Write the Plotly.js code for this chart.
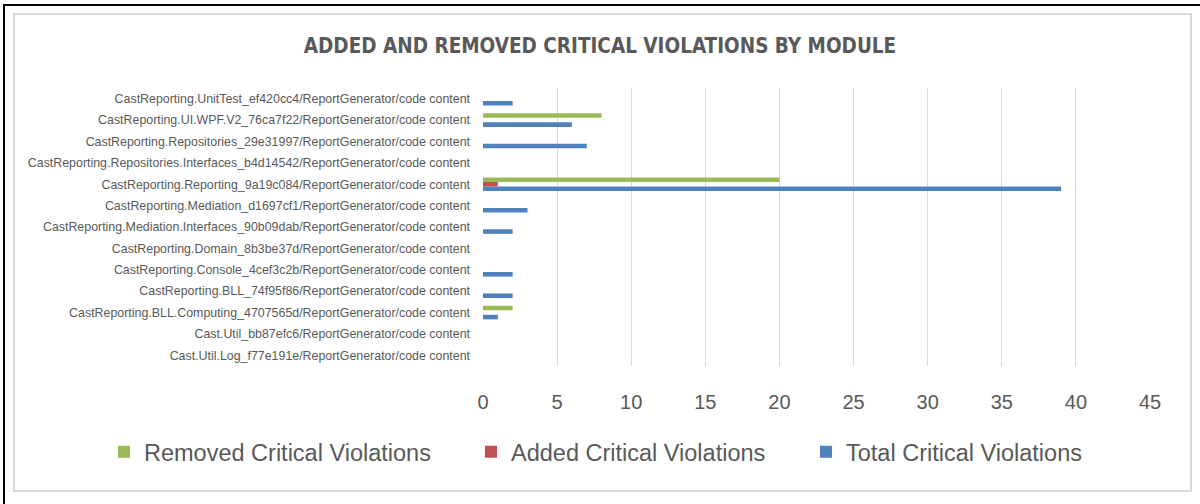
<!DOCTYPE html>
<html>
<head>
<meta charset="utf-8">
<script src="https://cdn.plot.ly/plotly-3.0.1.min.js"></script>
<style>
  html, body { margin: 0; padding: 0; background: #ffffff; }
  #wrap { position: relative; width: 1200px; height: 504px; overflow: hidden; }
  #myPlot1 { position: absolute; left: 0; top: 0; width: 1200px; height: 504px; }
  /* frame lines from the screenshot */
  #outerFrame { position: absolute; left: 3px; top: 4px; width: 1200px; height: 510px;
    border-top: 2px solid #000; border-left: 2px solid #000; pointer-events: none; }
  #innerFrame { position: absolute; left: 13px; top: 13px; width: 1175px; height: 475px;
    border: 2px solid #d9d9d9; pointer-events: none; }
</style>
</head>
<body>
<div id="wrap">
  <div id="myPlot1"></div>
  <div id="outerFrame"></div>
  <div id="innerFrame"></div>
</div>
<script>
// modules, listed bottom -> top as plotly stacks categories
var modules = [
	"Cast.Util.Log_f77e191e/ReportGenerator/code content",
	"Cast.Util_bb87efc6/ReportGenerator/code content",
	"CastReporting.BLL.Computing_4707565d/ReportGenerator/code content",
	"CastReporting.BLL_74f95f86/ReportGenerator/code content",
	"CastReporting.Console_4cef3c2b/ReportGenerator/code content",
	"CastReporting.Domain_8b3be37d/ReportGenerator/code content",
	"CastReporting.Mediation.Interfaces_90b09dab/ReportGenerator/code content",
	"CastReporting.Mediation_d1697cf1/ReportGenerator/code content",
	"CastReporting.Reporting_9a19c084/ReportGenerator/code content",
	"CastReporting.Repositories.Interfaces_b4d14542/ReportGenerator/code content",
	"CastReporting.Repositories_29e31997/ReportGenerator/code content",
	"CastReporting.UI.WPF.V2_76ca7f22/ReportGenerator/code content",
	"CastReporting.UnitTest_ef420cc4/ReportGenerator/code content"
];

var totalViolations   = [0, 0, 1, 2, 2, 0, 2, 3, 39, 0, 7, 6, 2];
var addedViolations   = [0, 0, 0, 0, 0, 0, 0, 0, 1, 0, 0, 0, 0];
var removedViolations = [0, 0, 2, 0, 0, 0, 0, 0, 20, 0, 0, 8, 0];

var xTicks = [0, 5, 10, 15, 20, 25, 30, 35, 40, 45];

function plotData(){

	var titleFont = "Liberation Sans Narrow, DejaVu Sans Condensed, Liberation Sans, sans-serif";
	var bodyFont = "Liberation Sans, sans-serif";
	var greyText = '#595959';

	var traceTotal = {
		y: modules, x: totalViolations, type: 'bar', orientation: 'h',
		name: 'Total Critical Violations',
		marker: {color: '#4F81BD'},
		legend: 'legend3',
		hoverinfo: 'none',
	};
	var traceAdded = {
		y: modules, x: addedViolations, type: 'bar', orientation: 'h',
		name: 'Added Critical Violations',
		marker: {color: '#C0504D'},
		legend: 'legend2',
		hoverinfo: 'none',
	};
	var traceRemoved = {
		y: modules, x: removedViolations, type: 'bar', orientation: 'h',
		name: 'Removed Critical Violations',
		marker: {color: '#9BBB59'},
		legend: 'legend',
		hoverinfo: 'none',
	};

	// one legend per entry so each can sit where the original puts it
	function legendAt(px){
		return {
			orientation: 'h',
			x: px/1200, xref: 'container', xanchor: 'left',
			y: 1 - 452/504, yref: 'container', yanchor: 'middle',
			font: {family: bodyFont, size: 23.5, color: greyText},
			bgcolor: 'rgba(0,0,0,0)',
			itemclick: false,
		};
	}

	var plotLayout1 = {
		title: {
			text: '<b>ADDED AND REMOVED CRITICAL VIOLATIONS BY MODULE</b>',
			font: {family: titleFont, size: 20.5, color: greyText},
			x: 0.5, xanchor: 'center',
			y: 1 - 46/504, yanchor: 'middle', yref: 'container',
		},
		width: 1200,
		height: 504,
		margin: {l: 483, r: 50, t: 88, b: 138},
		paper_bgcolor: 'rgba(0,0,0,0)',
		plot_bgcolor: 'rgba(0,0,0,0)',
		barmode: 'group',
		bargap: 0.36,
		bargroupgap: 0,
		showlegend: true,
		legend: legendAt(104),
		legend2: legendAt(471),
		legend3: legendAt(806),
		xaxis: {
			range: [0, 45],
			tickvals: xTicks,
			showgrid: true,
			gridcolor: '#d9d9d9',
			gridwidth: 1,
			zeroline: false,
			showline: false,
			ticks: '',
			ticklabelstandoff: 22,
			tickfont: {family: bodyFont, size: 20, color: greyText},
			fixedrange: true,
		},
		yaxis: {
			type: 'category',
			categoryorder: 'array',
			categoryarray: modules,
			showgrid: false,
			zeroline: false,
			showline: false,
			ticks: '',
			ticklabelstandoff: 12,
			tickfont: {family: bodyFont, size: 12.4, color: greyText},
			fixedrange: true,
		},
	};

	var myPlot1 = document.getElementById('myPlot1');
	Plotly.newPlot(myPlot1, [traceTotal, traceAdded, traceRemoved], plotLayout1, {displayModeBar: false, staticPlot: true});
}

plotData();
</script>
</body>
</html>
